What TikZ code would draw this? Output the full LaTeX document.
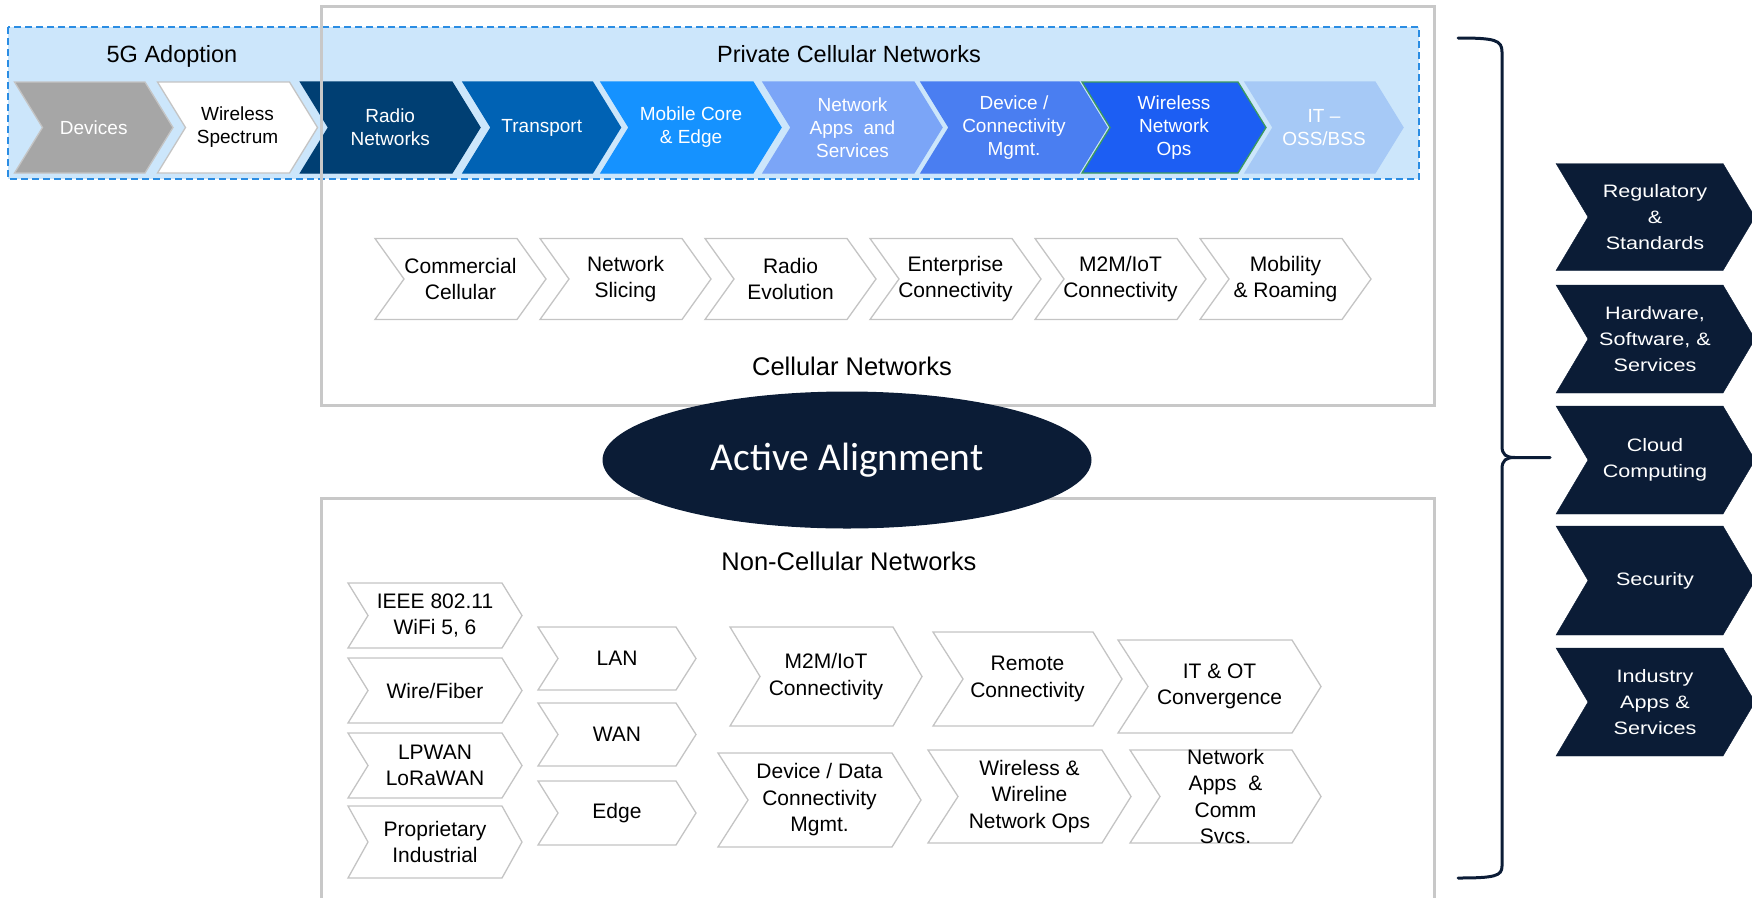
\documentclass[tikz,border=0pt]{standalone}
\usepackage{fontspec}
\setmainfont{Liberation Sans}
\newfontfamily\calfont{Carlito}
\newfontfamily\widefont[FakeStretch=1.2]{Liberation Sans}
\usepackage{tikz}
\usetikzlibrary{shapes.geometric}

\definecolor{navy}{HTML}{0B1C36}
\definecolor{boxgray}{HTML}{C8C8C8}
\definecolor{chevgray}{HTML}{C4C4C4}
\definecolor{bandfill}{HTML}{CCE6FB}
\definecolor{banddash}{HTML}{2B8DE3}
\definecolor{devgray}{HTML}{A6A6A6}
\definecolor{radioblue}{HTML}{003F73}
\definecolor{transblue}{HTML}{0062B4}
\definecolor{coreblue}{HTML}{1592FF}
\definecolor{appsblue}{HTML}{7BA5F7}
\definecolor{devblue}{HTML}{4A7EF1}
\definecolor{opsblue}{HTML}{1C5EF3}
\definecolor{itblue}{HTML}{A6C9F6}
\definecolor{opsgreen}{HTML}{3C9A5F}

\begin{document}
\begin{tikzpicture}[x=1pt, y=-1pt,
  band/.style={fill=bandfill, draw=banddash, line width=2, dash pattern=on 7pt off 4pt},
  frame/.style={draw=boxgray, line width=3},
  light/.style={fill=white, draw=chevgray, line width=1.3},
  dark/.style={fill=navy, draw=navy},
  title/.style={font=\fontsize{23.5}{28}\selectfont},
  section/.style={font=\fontsize{25.5}{30}\selectfont},
  toptext/.style={align=center, inner sep=0, font=\fontsize{19}{23}\selectfont},
  celltext/.style={align=center, inner sep=0, font=\fontsize{21}{26.5}\selectfont},
  sidetext/.style={align=center, inner sep=0, text=white, font=\widefont\fontsize{18}{26}\selectfont},
  brace/.style={draw=navy, line width=3, line cap=round}]

\useasboundingbox (0,0) rectangle (1752,897);

% 5G adoption band
\draw[band] (8,27) rectangle (1419,179);
\node[title, anchor=base] (adoption) at (172,62.5) {5G Adoption};
\node[title, anchor=base] (private) at (849,62.5) {Private Cellular Networks};

\foreach \xl/\xr/\fc/\dc/\tc/\nm/\txt in {
  14.5/173/devgray/chevgray/white/devices/Devices,
  157.5/317.5/white/chevgray/black/spectrum/{Wireless\\Spectrum},
  300.5/480/radioblue/radioblue/white/radio/{Radio\\Networks},
  463/620.5/transblue/transblue/white/transport/Transport,
  601/781/coreblue/coreblue/white/core/{Mobile Core\\\& Edge},
  763/942/appsblue/appsblue/white/apps/{Network\\Apps~ and\\Services},
  921/1107/devblue/devblue/white/devconn/{Device /\\Connectivity\\Mgmt.},
  1082/1266/opsblue/opsgreen/white/ops/{Wireless\\Network\\Ops},
  1245/1403/itblue/itblue/white/itoss/{IT --\\OSS/BSS}}{
  \draw[fill=\fc, draw=\dc, line width=1.3] (\xl,82) -- (\xr-28,82) -- (\xr,127.5) -- (\xr-28,173) -- (\xl,173) -- (\xl+28,127.5) -- cycle;
  \node[toptext, text=\tc] (\nm) at ({(\xl+\xr)/2},127.5) {\txt};
};

% frames
\draw[frame] (321,6) rectangle (1434,405);
\draw[frame] (321,905) -- (321,498.5) -- (1434,498.5) -- (1434,905);

% cellular networks
\foreach \i/\nm/\txt in {0/commercial/{Commercial\\Cellular}, 1/slicing/{Network\\Slicing},
  2/evolution/{Radio\\Evolution}, 3/enterprise/{Enterprise\\Connectivity},
  4/iotcell/{M2M/IoT\\Connectivity}, 5/roaming/{Mobility\\\& Roaming}}{
  \draw[light] (375+165*\i,238.5) -- (517+165*\i,238.5) -- (546+165*\i,279) -- (517+165*\i,319.5) -- (375+165*\i,319.5) -- (404+165*\i,279) -- cycle;
  \node[celltext] (\nm) at (460.5+165*\i,279) {\txt};
};
\node[section, anchor=base] (cellular) at (852,375) {Cellular Networks};

% non-cellular networks
\node[section, anchor=base] (noncellular) at (849,570) {Non-Cellular Networks};

\foreach \yt/\yb/\nm/\txt in {583/648/ieee/{IEEE 802.11\\WiFi 5, 6}, 658/723/fiber/{Wire/Fiber},
  733/798/lpwan/{LPWAN\\LoRaWAN}, 806/878/proprietary/{Proprietary\\Industrial}}{
  \draw[light] (348,\yt) -- (502,\yt) -- (522,{(\yt+\yb)/2}) -- (502,\yb) -- (348,\yb) -- (368,{(\yt+\yb)/2}) -- cycle;
  \node[celltext] (\nm) at (435,{(\yt+\yb)/2}) {\txt};
};

\foreach \yt/\yb/\nm/\txt in {627/690/lan/LAN, 703/766/wan/WAN, 781/845/edge/Edge}{
  \draw[light] (538,\yt) -- (676,\yt) -- (696,{(\yt+\yb)/2}) -- (676,\yb) -- (538,\yb) -- (558,{(\yt+\yb)/2}) -- cycle;
  \node[celltext] (\nm) at (617,{(\yt+\yb)/2}) {\txt};
};

\foreach \xl/\xr/\yt/\yb/\nm/\txt in {
  730/922/627/726/iotnon/{M2M/IoT\\Connectivity},
  933/1122/632/726/remote/{Remote\\Connectivity},
  1118/1321/640/733/convergence/{IT \& OT\\Convergence},
  718/921/753/847/devdata/{Device / Data\\Connectivity\\Mgmt.},
  928/1131/750/843/wireline/{Wireless \&\\Wireline\\Network Ops},
  1130/1321/750/843/comm/{Network\\Apps~ \&\\Comm\\Svcs.}}{
  \draw[light] (\xl,\yt) -- (\xr-29,\yt) -- (\xr,{(\yt+\yb)/2}) -- (\xr-29,\yb) -- (\xl,\yb) -- (\xl+30,{(\yt+\yb)/2}) -- cycle;
  \node[celltext] (\nm) at ({(\xl+\xr)/2},{(\yt+\yb)/2}) {\txt};
};

% alignment
\node[ellipse, fill=navy, minimum width=489, minimum height=137, inner sep=0, text=white,
  font=\calfont\fontsize{39.5}{46}\selectfont] (alignment) at (847,460) {Active Alignment};

% brace
\draw[brace] (1458,38) .. controls (1495,38) and (1502,40) .. (1502,52) -- (1502,446)
  .. controls (1502,455) and (1506,457.5) .. (1515,457.5) -- (1550,457.5);
\draw[brace] (1515,457.5) .. controls (1506,457.5) and (1502,460) .. (1502,469) -- (1502,866)
  .. controls (1502,876) and (1495,878) .. (1458,878);

% cross-industry topics
\foreach \yt/\yb/\nm/\txt in {163.5/270.5/regulatory/{Regulatory\\\&\\Standards},
  285/393/hardware/{Hardware,\\Software, \&\\Services}, 406/514/cloud/{Cloud\\Computing},
  526/635/security/Security, 648/756/industry/{Industry\\Apps \&\\Services}}{
  \draw[dark] (1556,\yt) -- (1723,\yt) -- (1755,{(\yt+\yb)/2}) -- (1723,\yb) -- (1556,\yb) -- (1588,{(\yt+\yb)/2}) -- cycle;
  \node[sidetext] (\nm) at (1655,{(\yt+\yb)/2}) {\txt};
};
\end{tikzpicture}
\end{document}
